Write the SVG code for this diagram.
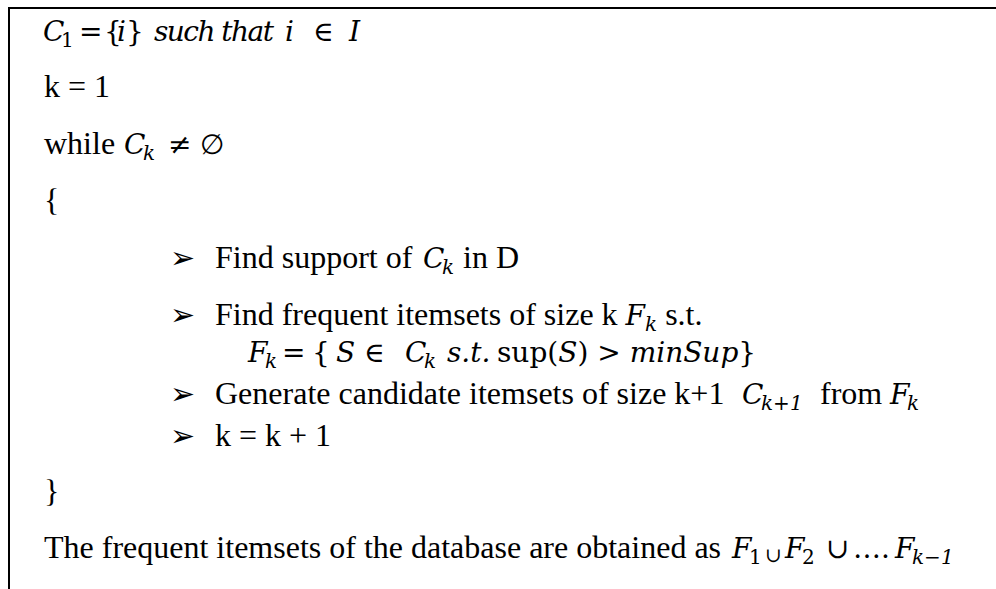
<svg xmlns="http://www.w3.org/2000/svg" width="996" height="589" viewBox="0 0 996 589" xml:space="preserve">
<style>
  .t { font-family: "Liberation Serif", "Times New Roman", serif; font-size: 32px; fill: #000; }
  .m { font-family: "DejaVu Serif", serif; font-style: italic; font-size: 28px; fill: #000; }
  .u { font-family: "DejaVu Serif", serif; font-style: normal; font-size: 28px; fill: #000; }
  .s { font-size: 20px; }
  .b { font-family: "DejaVu Sans", sans-serif; font-size: 30px; fill: #000; }
  .frame { fill: none; stroke: #000; stroke-width: 2; }
</style>
<rect width="996" height="589" fill="#fff"/>
<g id="frame"><path class="frame" d="M9,589 V8 H996"/></g>
<g id="connectors"></g>

<!-- initialisation -->
<g id="line-c1">
  <text class="m" x="43" y="41">C<tspan class="u s" x="61" y="47">1</tspan><tspan class="u" x="79" y="41">=</tspan><tspan class="u" x="104">{</tspan><tspan x="117">i</tspan><tspan class="u" x="126">}</tspan><tspan x="154" textLength="120">such that</tspan><tspan x="285">i</tspan><tspan class="u" x="313">∈</tspan><tspan x="349">I</tspan></text>
</g>
<g id="line-k1"><text class="t" x="44" y="97">k = 1</text></g>

<!-- loop header -->
<g id="line-while">
  <text class="t" x="44" y="154">while <tspan class="m" x="124">C</tspan><tspan class="m s" x="143" y="160">k</tspan><tspan class="u" x="168" y="154">≠</tspan><tspan class="u" x="200">∅</tspan></text>
</g>
<g id="line-open"><text class="t" x="44" y="211">{</text></g>

<!-- loop body -->
<g id="step-support">
  <text class="b" x="170" y="268">➢</text>
  <text class="t" x="215" y="268">Find support of <tspan class="m" x="423">C</tspan><tspan class="m s" x="442" y="274">k</tspan><tspan x="455" y="268"> in D</tspan></text>
</g>
<g id="step-frequent">
  <text class="b" x="170" y="325">➢</text>
  <text class="t" x="215" y="325">Find frequent itemsets of size k <tspan class="m">F</tspan><tspan class="m s" dy="6">k</tspan><tspan dy="-6"> s.t.</tspan></text>
  <text class="m" x="248" y="362">F<tspan class="s" x="265" y="368">k</tspan><tspan class="u" x="282" y="362">=</tspan><tspan class="u" x="312">{</tspan><tspan x="336">S</tspan><tspan class="u" x="364">∈</tspan><tspan x="405">C</tspan><tspan class="s" x="424" y="368">k</tspan><tspan x="447" y="362">s.</tspan><tspan>t.</tspan><tspan class="u" x="497">sup(</tspan><tspan>S</tspan><tspan class="u">) &gt; </tspan><tspan>minSup</tspan><tspan class="u">}</tspan></text>
</g>
<g id="step-generate">
  <text class="b" x="170" y="404">➢</text>
  <text class="t" x="215" y="404">Generate candidate itemsets of size k+1 <tspan class="m" x="742">C</tspan><tspan class="m s" x="761" y="410">k+1</tspan><tspan x="820" y="404">from </tspan><tspan class="m" x="890">F</tspan><tspan class="m s" x="907" y="410">k</tspan></text>
</g>
<g id="step-increment">
  <text class="b" x="170" y="446">➢</text>
  <text class="t" x="215" y="446">k = k + 1</text>
</g>
<g id="line-close"><text class="t" x="44" y="502">}</text></g>

<!-- result -->
<g id="line-result">
  <text class="t" x="44" y="558">The frequent itemsets of the database are obtained as <tspan class="m" x="732">F</tspan><tspan class="u s" x="749" y="564">1</tspan><tspan class="u s" x="765" y="562">∪</tspan><tspan class="m" x="785" y="558">F</tspan><tspan class="u s" x="802" y="564">2</tspan><tspan class="u" x="826" y="558">∪</tspan><tspan class="u" x="853">….</tspan><tspan class="m" x="895">F</tspan><tspan class="m s" x="912" y="564">k−1</tspan></text>
</g>
</svg>
